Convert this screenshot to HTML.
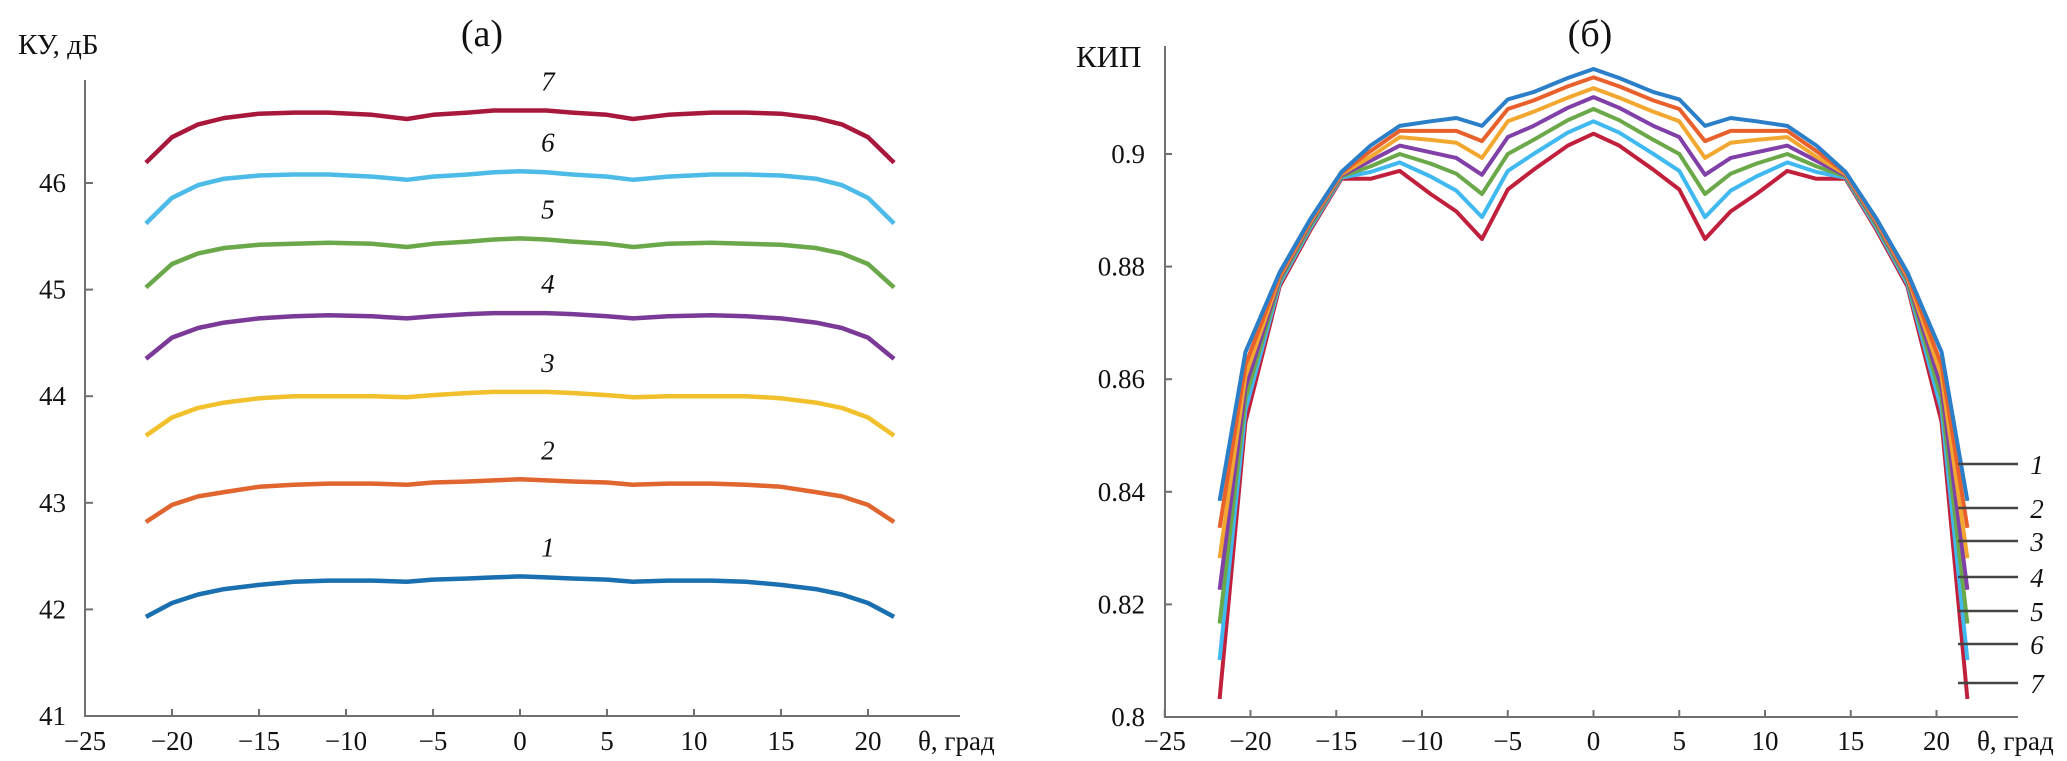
<!DOCTYPE html>
<html><head><meta charset="utf-8"><style>
html,body{margin:0;padding:0;background:#fff;}
svg{display:block;font-family:"Liberation Serif","DejaVu Serif",serif;}
</style></head><body>
<svg id="chart" width="2067" height="761" viewBox="0 0 2067 761" xmlns="http://www.w3.org/2000/svg">
<g id="left"></g>
<g id="right"></g>
</svg>
<script>
// ---- Chart (a) data ----
const aX = [-21.5,-20,-18.5,-17,-15,-13,-11,-8.5,-6.5,-5,-3,-1.5,0,1.5,3,5,6.5,8.5,11,13,15,17,18.5,20,21.5];
const aS1 = [41.93,42.06,42.14,42.19,42.23,42.26,42.27,42.27,42.26,42.28,42.29,42.30,42.31,42.30,42.29,42.28,42.26,42.27,42.27,42.26,42.23,42.19,42.14,42.06,41.93];
const aS2 = [42.82,42.98,43.06,43.10,43.15,43.17,43.18,43.18,43.17,43.19,43.20,43.21,43.22,43.21,43.20,43.19,43.17,43.18,43.18,43.17,43.15,43.10,43.06,42.98,42.82];
const aS3 = [43.63,43.80,43.89,43.94,43.98,44.00,44.00,44.00,43.99,44.01,44.03,44.04,44.04,44.04,44.03,44.01,43.99,44.00,44.00,44.00,43.98,43.94,43.89,43.80,43.63];
const aS4 = [44.35,44.55,44.64,44.69,44.73,44.75,44.76,44.75,44.73,44.75,44.77,44.78,44.78,44.78,44.77,44.75,44.73,44.75,44.76,44.75,44.73,44.69,44.64,44.55,44.35];
const aS5 = [45.02,45.24,45.34,45.39,45.42,45.43,45.44,45.43,45.40,45.43,45.45,45.47,45.48,45.47,45.45,45.43,45.40,45.43,45.44,45.43,45.42,45.39,45.34,45.24,45.02];
const aS6 = [45.62,45.86,45.98,46.04,46.07,46.08,46.08,46.06,46.03,46.06,46.08,46.10,46.11,46.10,46.08,46.06,46.03,46.06,46.08,46.08,46.07,46.04,45.98,45.86,45.62];
const aS7 = [46.19,46.43,46.55,46.61,46.65,46.66,46.66,46.64,46.60,46.64,46.66,46.68,46.68,46.68,46.66,46.64,46.60,46.64,46.66,46.66,46.65,46.61,46.55,46.43,46.19];
const aXTicks = [-25,-20,-15,-10,-5,0,5,10,15,20];
const aYTicks = [41,42,43,44,45,46];
const aColors = ["#1a6fb0","#e0652f","#f2c02c","#7b3a98","#6aa84a","#4dbbe8","#a8183c"];

// ---- Chart (b) data ----
const bX = [-21.8,-20.3,-18.3,-16.5,-14.7,-13,-11.3,-9.5,-8,-6.5,-5,-3.5,-1.5,0,1.5,3.5,5,6.5,8,9.5,11.3,13,14.7,16.5,18.3,20.3,21.8];
const bS1 = [.8384,.8648,.8790,.8885,.8968,.9015,.9050,.9058,.9064,.9050,.9097,.9110,.9135,.9151,.9135,.9110,.9097,.9050,.9064,.9058,.9050,.9015,.8968,.8885,.8790,.8648,.8384];
const bS2 = [.8336,.8625,.8785,.8882,.8966,.9005,.9041,.9041,.9041,.9023,.9080,.9095,.9120,.9136,.9120,.9095,.9080,.9023,.9041,.9041,.9041,.9005,.8966,.8882,.8785,.8625,.8336];
const bS3 = [.8282,.8605,.8782,.8880,.8964,.8995,.9030,.9025,.9020,.8993,.9058,.9075,.9100,.9117,.9100,.9075,.9058,.8993,.9020,.9025,.9030,.8995,.8964,.8880,.8782,.8605,.8282];
const bS4 = [.8226,.8585,.8779,.8877,.8962,.8988,.9015,.9003,.8993,.8963,.9030,.9050,.9082,.9101,.9082,.9050,.9030,.8963,.8993,.9003,.9015,.8988,.8962,.8877,.8779,.8585,.8226];
const bS5 = [.8166,.8565,.8775,.8873,.8960,.8978,.9000,.8983,.8965,.8929,.9000,.9025,.9060,.9080,.9060,.9025,.9000,.8929,.8965,.8983,.9000,.8978,.8960,.8873,.8775,.8565,.8166];
const bS6 = [.8101,.8545,.8770,.8869,.8958,.8968,.8985,.8960,.8935,.8888,.8970,.9000,.9038,.9058,.9038,.9000,.8970,.8888,.8935,.8960,.8985,.8968,.8958,.8869,.8770,.8545,.8101];
const bS7 = [.8032,.8524,.8765,.8865,.8956,.8956,.8970,.8929,.8898,.8849,.8937,.8972,.9015,.9036,.9015,.8972,.8937,.8849,.8898,.8929,.8970,.8956,.8956,.8865,.8765,.8524,.8032];
const bXTicks = [-25,-20,-15,-10,-5,0,5,10,15,20];
const bYTicks = [0.8,0.82,0.84,0.86,0.88,0.9];
const bYLabels = ["0.8","0.82","0.84","0.86","0.88","0.9"];
const bColors = ["#2a7fc8","#e8602c","#f2a830","#8040a8","#6aa84a","#40b8f0","#c0203c"];
const seriesNames = ["1","2","3","4","5","6","7"];

const NS = "http://www.w3.org/2000/svg";
function mk(parent, tag, attrs, text) {
  const e = document.createElementNS(NS, tag);
  for (const k in attrs) e.setAttribute(k, attrs[k]);
  if (text !== undefined) e.textContent = text;
  parent.appendChild(e);
  return e;
}
function fmt(v){ return v < 0 ? "\u2212" + Math.abs(v) : String(v); }

// ===== Chart (a) =====
(function(){
  const g = document.getElementById('left');
  const xS = v => 85 + (v + 25) * 17.4;
  const yS = v => 716 - (v - 41) * 106.6;
  const axisY = mk(g,'line',{x1:85,y1:80,x2:85,y2:716,stroke:'#707070','stroke-width':2});
  
  
  const axisX = mk(g,'line',{x1:84,y1:716,x2:960,y2:716,stroke:'#707070','stroke-width':2});
  
  
  aXTicks.forEach(t => {
    const x = xS(t);
    const tk = mk(g,'line',{x1:x,y1:716,x2:x,y2:709,stroke:'#707070','stroke-width':2});
    
    
    const lb = mk(g,'text',{x:x,y:750,'font-size':27,'text-anchor':'middle',fill:'#111'},fmt(t));
    
    
  });
  aYTicks.forEach(t => {
    const y = yS(t);
    const tk = mk(g,'line',{x1:85,y1:y,x2:93,y2:y,stroke:'#707070','stroke-width':2});
    
    
    const lb = mk(g,'text',{x:66,y:y+9,'font-size':27,'text-anchor':'end',fill:'#111'},fmt(t));
    
    
  });
  const yt = mk(g,'text',{x:18,y:54,'font-size':29,fill:'#111'},'КУ, дБ');
  
  
  const xt = mk(g,'text',{x:918,y:750,'font-size':27,fill:'#111'},'θ, град');
  
  
  const tt = mk(g,'text',{x:482,y:46,'font-size':38,'text-anchor':'middle',fill:'#111'},'(a)');
  
  
  const all = [aS1,aS2,aS3,aS4,aS5,aS6,aS7];
  all.forEach((s,i) => {
    const d = s.map((v,j) => (j?'L':'M') + xS(aX[j]).toFixed(1) + ',' + yS(v).toFixed(1)).join(' ');
    const p = mk(g,'path',{d:d,fill:'none',stroke:aColors[i],'stroke-width':4.5,'stroke-linejoin':'round'});
    
    
    const mid = Math.max(...s);
    const lb = mk(g,'text',{x:xS(1.6),y:yS(mid)-20,'font-size':27,'font-style':'italic','text-anchor':'middle',fill:'#111'},seriesNames[i]);
    
    
  });
})();

// ===== Chart (b) =====
(function(){
  const g = document.getElementById('right');
  const xS = v => 1593.5 + v * 17.15;
  const yS = v => 717 - (v - 0.8) * 5630;
  const axisY = mk(g,'line',{x1:1165,y1:46,x2:1165,y2:717,stroke:'#707070','stroke-width':2});
  
  
  const axisX = mk(g,'line',{x1:1164,y1:717,x2:2018,y2:717,stroke:'#707070','stroke-width':2});
  
  
  bXTicks.forEach(t => {
    const x = xS(t);
    const tk = mk(g,'line',{x1:x,y1:717,x2:x,y2:710,stroke:'#707070','stroke-width':2});
    
    
    const lb = mk(g,'text',{x:x,y:750,'font-size':27,'text-anchor':'middle',fill:'#111'},fmt(t));
    
    
  });
  bYTicks.forEach((t,i) => {
    const y = yS(t);
    const tk = mk(g,'line',{x1:1165,y1:y,x2:1172,y2:y,stroke:'#707070','stroke-width':2});
    
    
    const lb = mk(g,'text',{x:1145,y:y+9,'font-size':27,'text-anchor':'end',fill:'#111'},bYLabels[i]);
    
    
  });
  const yt = mk(g,'text',{x:1076,y:67,'font-size':31,fill:'#111'},'КИП');
  
  
  const xt = mk(g,'text',{x:1977,y:750,'font-size':27,fill:'#111'},'θ, град');
  
  
  const tt = mk(g,'text',{x:1590,y:46,'font-size':38,'text-anchor':'middle',fill:'#111'},'(б)');
  
  
  const all = [bS7,bS6,bS5,bS4,bS3,bS2,bS1];
  const idx = [6,5,4,3,2,1,0];
  all.forEach((s,k) => {
    const i = idx[k];
    const d = s.map((v,j) => (j?'L':'M') + xS(bX[j]).toFixed(1) + ',' + yS(v).toFixed(1)).join(' ');
    const p = mk(g,'path',{d:d,fill:'none',stroke:bColors[i],'stroke-width':4,'stroke-linejoin':'round'});
    
    
  });
  const legY = [464,508,541,577,611,644,683];
  legY.forEach((y,i) => {
    const l = mk(g,'line',{x1:1958,y1:y,x2:2018,y2:y,stroke:'#444','stroke-width':2.5});
    
    
    const t = mk(g,'text',{x:2037,y:y+10,'font-size':27,'font-style':'italic','text-anchor':'middle',fill:'#111'},seriesNames[i]);
    
    
  });
})();
</script>
</body></html>
